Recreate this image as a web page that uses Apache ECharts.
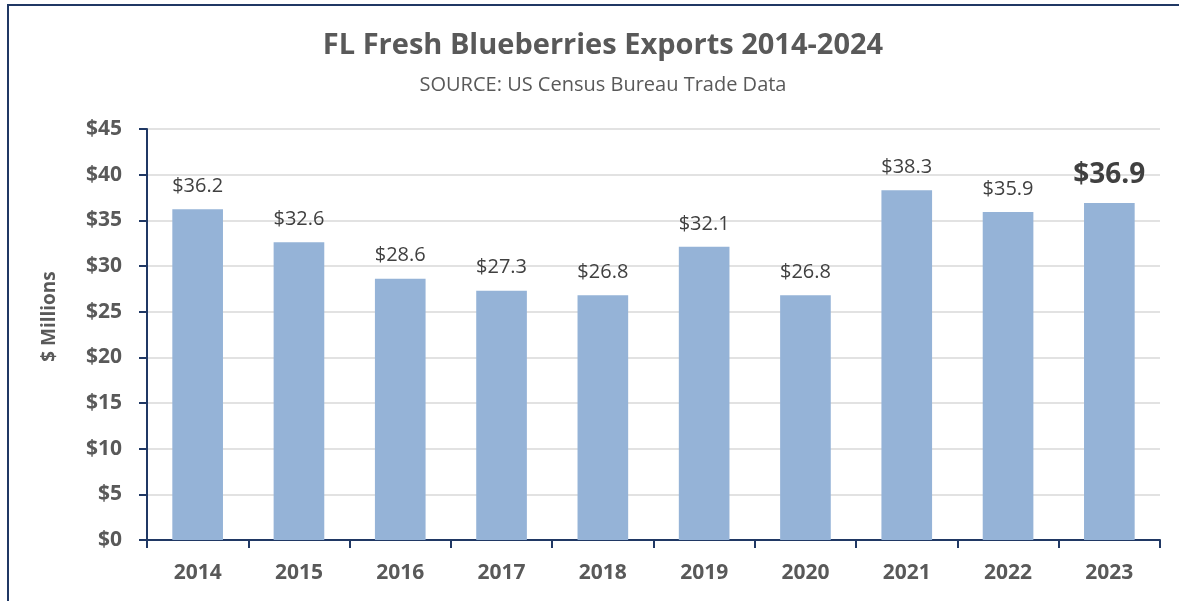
<!DOCTYPE html>
<html>
<head>
<meta charset="utf-8">
<script src="https://cdn.jsdelivr.net/npm/echarts@6/dist/echarts.min.js"></script>
<style>
  html, body { margin: 0; padding: 0; background: #fff; }
  #chart { width: 1179px; height: 601px; }
</style>
</head>
<body>
<div id="chart"></div>
<script>
// data
const years = ['2014', '2015', '2016', '2017', '2018', '2019', '2020', '2021', '2022', '2023']
const exportsMillions = [36.2, 32.6, 28.6, 27.3, 26.8, 32.1, 26.8, 38.3, 35.9, 36.9]
const highlightIndex = 9 // last bar gets the big bold label

const fontFamily = '"Open Sans", "Noto Sans", sans-serif'
const labelGrey = '#595959'
const navy = '#203864'

const chart = echarts.init(document.getElementById('chart'))

const option = {
    backgroundColor: '#fff',
    textStyle: { fontFamily: fontFamily },
    title: {
        text: 'FL Fresh Blueberries Exports 2014-2024',
        subtext: 'SOURCE: US Census Bureau Trade Data',
        left: 598,
        textAlign: 'center',
        top: 26,
        itemGap: 15,
        textStyle: { fontSize: 29, fontWeight: 'bold', color: labelGrey, fontFamily: fontFamily },
        subtextStyle: { fontSize: 20, color: labelGrey, fontFamily: fontFamily }
    },
    graphic: [
        // frame lines at top and left
        { type: 'rect', shape: { x: 7, y: 4, width: 1172, height: 2 }, style: { fill: navy } },
        { type: 'rect', shape: { x: 7, y: 4, width: 2, height: 597 }, style: { fill: navy } }
    ],
    grid: { left: 147, right: 19, top: 129, bottom: 61 },
    xAxis: {
        type: 'category',
        data: years,
        axisLine: { lineStyle: { color: navy, width: 2 } },
        axisTick: { show: true, length: 8, lineStyle: { color: navy, width: 2 } },
        axisLabel: { fontSize: 21, fontWeight: 'bold', color: labelGrey, margin: 23 }
    },
    yAxis: {
        type: 'value',
        min: 0,
        max: 45,
        interval: 5,
        name: '$ Millions',
        nameLocation: 'middle',
        nameGap: 88,
        nameTextStyle: { fontSize: 19, fontWeight: 'bold', color: labelGrey, padding: [0, 0, 0, 36] },
        axisLine: { show: true, lineStyle: { color: navy, width: 2 } },
        axisTick: { show: true, length: 8, lineStyle: { color: navy, width: 2 } },
        axisLabel: {
            fontSize: 21, fontWeight: 'bold', color: labelGrey, margin: 25,
            formatter: v => '$' + v
        },
        splitLine: { lineStyle: { color: '#D9D9D9', width: 1.5 } }
    },
    series: [{
        type: 'bar',
        barWidth: '50%',
        itemStyle: { color: '#95B3D7' },
        data: exportsMillions.map((v, i) => {
            const item = { value: v }
            if (i === highlightIndex) {
                item.label = { fontSize: 28, fontWeight: 'bold', color: '#404040', distance: 14 }
            }
            return item
        }),
        label: {
            show: true,
            position: 'top',
            distance: 13,
            fontSize: 20,
            color: '#404040',
            formatter: p => '$' + p.value.toFixed(1)
        }
    }]
}

chart.setOption(option)
</script>
</body>
</html>
